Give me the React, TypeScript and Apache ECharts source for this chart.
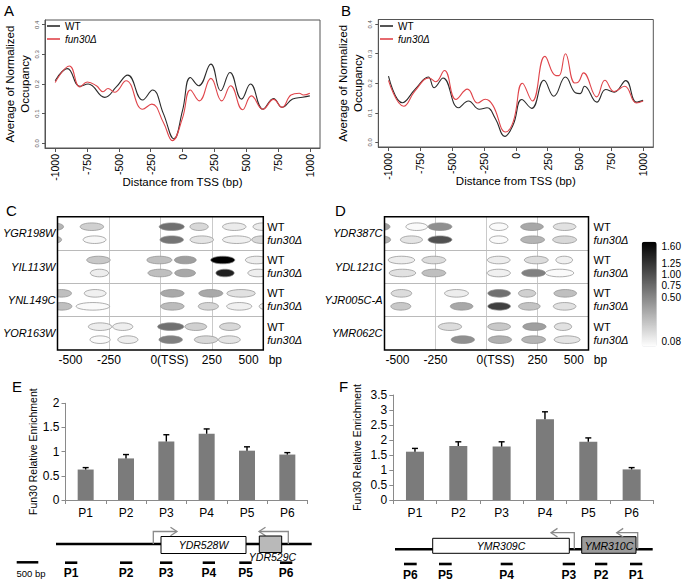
import React, { useEffect, useRef } from 'react';
import * as echarts from 'echarts';

const FONT = '"Liberation Sans", Arial, Helvetica, sans-serif';

// ---------- Panel A / B : nucleosome occupancy profiles ----------
const aWT = [[-1000,0.211],[-904,0.252],[-806,0.192],[-741,0.2],[-611,0.155],[-520,0.19],[-430,0.23],[-313,0.146],[-235,0.18],[-150,0.1],[-68,0.015],[0,0.11],[62,0.222],[127,0.194],[223,0.267],[300,0.177],[373,0.239],[464,0.149],[534,0.2],[632,0.115],[715,0.151],[782,0.121],[865,0.149],[943,0.155],[1000,0.16]];
const aFun = [[-1000,0.205],[-888,0.261],[-806,0.19],[-748,0.207],[-676,0.194],[-624,0.174],[-585,0.185],[-534,0.172],[-443,0.211],[-313,0.115],[-241,0.132],[-150,0.07],[-80,0.009],[0,0.085],[62,0.18],[132,0.143],[223,0.219],[308,0.143],[378,0.194],[472,0.113],[541,0.16],[632,0.115],[715,0.148],[782,0.121],[852,0.163],[917,0.169],[950,0.163],[1000,0.169]];
const bWT = [[-1000,0.224],[-891,0.134],[-790,0.18],[-688,0.221],[-641,0.185],[-571,0.218],[-450,0.117],[-372,0.14],[-286,0.112],[-226,0.117],[-160,0.08],[-86,0.02],[-20,0.06],[47,0.145],[125,0.115],[221,0.21],[299,0.156],[390,0.221],[468,0.168],[506,0.165],[540,0.19],[636,0.136],[706,0.179],[773,0.17],[864,0.209],[947,0.136],[1000,0.142]];
const bFun = [[-1000,0.21],[-880,0.122],[-790,0.175],[-680,0.218],[-630,0.205],[-560,0.243],[-470,0.145],[-380,0.18],[-300,0.133],[-240,0.146],[-180,0.125],[-80,0.035],[-20,0.07],[52,0.2],[130,0.14],[229,0.291],[315,0.226],[340,0.226],[390,0.3],[462,0.201],[493,0.205],[532,0.235],[636,0.154],[700,0.21],[773,0.172],[855,0.19],[947,0.133],[1000,0.14]];
const profileTicks = [-1000, -750, -500, -250, 0, 250, 500, 750, 1000];
const occupancyTicks = [0, 0.1, 0.2, 0.3, 0.4];

// ---------- Panel C / D : nucleosome maps [position bp, width bp, value] ----------
const cGenes = ['YGR198W', 'YIL113W', 'YNL149C', 'YOR163W'];
const cWT = [
  [[-519, 97, 0.52], [-333, 114, 0.36], [55, 122, 0.93], [188, 89, 0.31], [359, 114, 0.2], [500, 100, 0.2]],
  [[-301, 114, 0.41], [-5, 122, 0.46], [121, 106, 0.65], [303, 117, 1.6], [468, 110, 0.18]],
  [[-481, 98, 0.46], [-317, 106, 0.17], [58, 114, 0.6], [245, 117, 0.6], [392, 138, 0.26]],
  [[-293, 114, 0.19], [-183, 98, 0.18], [50, 127, 0.93], [172, 106, 0.36], [338, 101, 0.31]],
];
const cFun = [
  [[-525, 90, 0.5], [-320, 111, 0.13], [55, 114, 0.9], [201, 114, 0.24], [371, 138, 0.17], [494, 100, 0.31]],
  [[-296, 89, 0.19], [-2, 117, 0.46], [120, 101, 0.6], [314, 89, 1.41], [475, 100, 0.18]],
  [[-479, 98, 0.46], [-328, 163, 0.11], [58, 114, 0.48], [233, 98, 0.33], [383, 122, 0.17], [530, 100, 0.17]],
  [[-293, 98, 0.11], [-158, 98, 0.18], [50, 114, 0.84], [222, 114, 0.31], [335, 106, 0.24]],
];
const dGenes = ['YDR387C', 'YDL121C', 'YJR005C-A', 'YMR062C'];
const dWT = [
  [[-518, 90, 0.65], [-342, 106, 0.11], [-228, 117, 0.74], [60, 90, 0.11], [223, 111, 0.6], [383, 111, 0.26]],
  [[-417, 130, 0.19], [-258, 117, 0.29], [60, 111, 0.19], [244, 117, 0.29], [381, 82, 0.17]],
  [[-417, 101, 0.29], [-147, 117, 0.19], [62, 111, 0.93], [199, 85, 0.36], [386, 111, 0.46]],
  [[-179, 114, 0.29], [62, 111, 0.41], [235, 114, 0.65], [375, 85, 0.26]],
];
const dFun = [
  [[-515, 90, 0.55], [-368, 108, 0.24], [-228, 117, 1.12], [60, 90, 0.11], [226, 117, 0.53], [383, 117, 0.31]],
  [[-412, 130, 0.26], [-258, 117, 0.46], [60, 114, 0.17], [231, 117, 0.84], [358, 139, 0.11]],
  [[-420, 98, 0.41], [-122, 111, 0.6], [62, 111, 1.22], [210, 106, 0.44], [383, 111, 0.26]],
  [[-116, 114, 0.74], [66, 114, 0.55], [231, 117, 0.53], [395, 127, 0.24]],
];
const positionTicks = [-500, -250, 0, 250, 500];
const colorTicks = ['1.60', '1.25', '1.00', '0.75', '0.50', '0.08'];

// ---------- Panel E / F : ChIP enrichment ----------
const primers = ['P1', 'P2', 'P3', 'P4', 'P5', 'P6'];
const eValues = [0.63, 0.86, 1.21, 1.37, 1.02, 0.94];
const eErrors = [0.04, 0.08, 0.14, 0.1, 0.08, 0.04];
const fValues = [1.61, 1.8, 1.78, 2.69, 1.94, 1.02];
const fErrors = [0.11, 0.14, 0.16, 0.25, 0.13, 0.06];

// ---------- helpers ----------
const WT_ROW = 0.3;
const FUN_ROW = 0.69;

function ellipseRows(wt: number[][][], fun: number[][][]) {
  const rows: number[][] = [];
  wt.forEach((list, g) => list.forEach(([x, w, v]) => rows.push([x, g + WT_ROW, w, v])));
  fun.forEach((list, g) => list.forEach(([x, w, v]) => rows.push([x, g + FUN_ROW, w, v])));
  return rows;
}

const ellipseRender = (params: any, api: any) => {
  const c = api.coord([api.value(0), api.value(1)]);
  const s = api.size([api.value(2), 0]);
  return {
    type: 'ellipse',
    shape: { cx: c[0], cy: c[1], rx: s[0] / 2, ry: 3.8 },
    style: { fill: api.visual('color'), stroke: '#8c8c8c', lineWidth: 0.7 },
  };
};

const errorRender = (params: any, api: any) => {
  const p0 = api.coord([api.value(0), api.value(1)]);
  const p1 = api.coord([api.value(0), api.value(1) + api.value(2)]);
  return {
    type: 'group',
    children: [
      { type: 'line', shape: { x1: p0[0], y1: p0[1], x2: p1[0], y2: p1[1] }, style: { stroke: '#000', lineWidth: 1.4 } },
      { type: 'line', shape: { x1: p1[0] - 3, y1: p1[1], x2: p1[0] + 3, y2: p1[1] }, style: { stroke: '#000', lineWidth: 1.4 } },
    ],
  };
};

const txt = (text: string, x: number, y: number, extra: any = {}) => ({
  type: 'text', x, y, silent: true,
  style: { text, fill: '#000', fontFamily: FONT, fontSize: 11, align: 'left', verticalAlign: 'middle', ...extra },
});
const seg = (x1: number, y1: number, x2: number, y2: number, stroke = '#000', lineWidth = 2.5) => ({
  type: 'line', silent: true, shape: { x1, y1, x2, y2 }, style: { stroke, lineWidth },
});
const poly = (points: number[][], stroke = '#8a8a8a', lineWidth = 1.3) => ({
  type: 'polyline', silent: true, shape: { points }, style: { stroke, lineWidth, fill: null },
});

function profileXAxis(gridIndex: number) {
  return {
    type: 'value', gridIndex, min: -1080, max: 1080,
    axisLine: { show: true, onZero: false, lineStyle: { color: '#555', width: 1 } },
    axisTick: { show: true, customValues: profileTicks, length: 4, lineStyle: { color: '#555' } },
    axisLabel: { customValues: profileTicks, rotate: 90, fontSize: 10.5, fontFamily: FONT, color: '#000', margin: 6,
      formatter: (v: number) => String(v) },
    splitLine: { show: false },
    name: 'Distance from TSS (bp)', nameLocation: 'middle', nameGap: 28, nameMoveOverlap: false,
    nameTextStyle: { fontSize: 11.5, fontFamily: FONT, color: '#000' },
  };
}
function profileYAxis(gridIndex: number) {
  return {
    type: 'value', gridIndex, min: -0.016, max: 0.416,
    axisLine: { show: true, onZero: false, lineStyle: { color: '#555', width: 1 } },
    axisTick: { show: true, customValues: occupancyTicks, length: 3, lineStyle: { color: '#555' } },
    axisLabel: { customValues: occupancyTicks, rotate: 90, fontSize: 6, fontFamily: FONT, color: '#555', margin: 5,
      formatter: (v: number) => v.toFixed(1) },
    splitLine: { show: false },
    name: 'Average of Normalized\nOccupancy', nameLocation: 'middle', nameGap: 13, nameMoveOverlap: false,
    nameTextStyle: { fontSize: 11.5, lineHeight: 15, fontFamily: FONT, color: '#000' },
  };
}
function mapXAxis(gridIndex: number) {
  return {
    type: 'value', gridIndex, min: -500, max: 500, interval: 250,
    axisLine: { show: false, onZero: false }, axisTick: { show: false },
    splitLine: { show: true, showMinLine: false, showMaxLine: false, lineStyle: { color: '#bdbdbd', width: 0.8 } },
    axisLabel: {
      customValues: positionTicks, fontSize: 12, fontFamily: FONT, color: '#000', margin: 4,
      formatter: (v: number) => (v === -500 ? '{l|-500}' : v === 0 ? '{z|0(TSS)}' : v === 500 ? '{r|500   bp}' : String(v)),
      rich: {
        l: { fontSize: 12, fontFamily: FONT, color: '#000', padding: [0, 0, 0, 26] },
        z: { fontSize: 12, fontFamily: FONT, color: '#000', padding: [0, 0, 0, 18] },
        r: { fontSize: 12, fontFamily: FONT, color: '#000', padding: [0, 6, 0, 0] },
      },
    },
  };
}
function mapYAxes(gridIndex: number, genes: string[], rightMargin: number) {
  const base = { type: 'value', gridIndex, min: 0, max: 4, inverse: true, axisLine: { show: false, onZero: false }, axisTick: { show: false } };
  return [
    { ...base, interval: 1, axisLabel: { show: false },
      splitLine: { show: true, showMinLine: false, showMaxLine: false, lineStyle: { color: '#a8a8a8', width: 0.8 } } },
    { ...base, position: 'left', splitLine: { show: false },
      axisLabel: { customValues: [0.5, 1.5, 2.5, 3.5], margin: 2, fontSize: 11, fontStyle: 'italic', fontFamily: FONT, color: '#000',
        formatter: (v: number) => genes[Math.floor(v)] } },
    { ...base, position: 'right', splitLine: { show: false },
      axisLabel: { customValues: [0, 1, 2, 3].flatMap((g) => [g + WT_ROW, g + FUN_ROW]), margin: rightMargin, fontSize: 11,
        fontFamily: FONT, color: '#000', align: 'left',
        formatter: (v: number) => (v - Math.floor(v) < 0.5 ? 'WT' : '{i|fun30Δ}'),
        rich: { i: { fontStyle: 'italic', fontSize: 11, fontFamily: FONT, color: '#000' } } } },
  ];
}
function barXAxis(gridIndex: number) {
  return {
    type: 'category', gridIndex, data: primers,
    axisLine: { show: true, onZero: false, lineStyle: { color: '#8a8a8a', width: 1 } },
    axisTick: { show: true, length: 4, lineStyle: { color: '#8a8a8a' } },
    axisLabel: { fontSize: 12, fontFamily: FONT, color: '#000', margin: 7 },
  };
}
function barYAxis(gridIndex: number, max: number, nameGap: number) {
  return {
    type: 'value', gridIndex, min: 0, max, interval: 0.5,
    axisLine: { show: true, onZero: false, lineStyle: { color: '#8a8a8a', width: 1 } },
    axisTick: { show: true, length: 4, lineStyle: { color: '#8a8a8a' } },
    axisLabel: { fontSize: 12, fontFamily: FONT, color: '#000', margin: 6 },
    splitLine: { show: false },
    name: 'Fun30 Relative Enrichment', nameLocation: 'middle', nameGap, nameMoveOverlap: false,
    nameTextStyle: { fontSize: 10.5, fontFamily: FONT, color: '#000' },
  };
}

function legendFor(left: number) {
  return {
    left, top: 20, orient: 'vertical', padding: 0, itemGap: 1, itemWidth: 13, itemHeight: 1.6, icon: 'rect',
    data: ['WT', 'fun30Δ'], selectedMode: false,
    formatter: (n: string) => (n === 'fun30Δ' ? '{i|fun30Δ}' : n),
    textStyle: { fontSize: 10, lineHeight: 12, fontFamily: FONT, color: '#000',
      rich: { i: { fontStyle: 'italic', fontSize: 10, lineHeight: 12, fontFamily: FONT, color: '#000' } } },
  };
}

function profileSeries(data: number[][], name: string, color: string, idx: number) {
  return {
    type: 'line', name, data, xAxisIndex: idx, yAxisIndex: idx, smooth: 0.45, symbol: 'none',
    lineStyle: { color, width: 1.1 }, itemStyle: { color },
  };
}

// ---------- gene diagrams (schematics) ----------
function diagramE() {
  const y = 544;
  const primerX = [[65, 77.3], [120, 132.3], [160, 172.3], [202.7, 215], [239.3, 251.7], [280, 292.3]];
  return [
    seg(56, y, 311.7, y, '#000', 2.6),
    poly([[153.3, y], [153.3, 531.5], [176.5, 531.5]]),
    poly([[170.5, 527.2], [177, 531.5], [170.5, 535.8]]),
    poly([[288.3, y], [288.3, 531.5], [259.5, 531.5]]),
    poly([[265.5, 527.2], [259, 531.5], [265.5, 535.8]]),
    { type: 'rect', silent: true, shape: { x: 161, y: 536.5, width: 85, height: 17 }, style: { fill: '#fff', stroke: '#000', lineWidth: 1 } },
    { type: 'rect', silent: true, shape: { x: 259.3, y: 536, width: 22.4, height: 16.5 }, style: { fill: '#b9b9b9', stroke: '#000', lineWidth: 1 } },
    txt('YDR528W', 203.5, 545, { align: 'center', fontStyle: 'italic', fontSize: 10.5 }),
    txt('YDR529C', 272.5, 556.5, { align: 'center', fontStyle: 'italic', fontSize: 10.5 }),
    seg(16.7, 562.3, 38.3, 562.3, '#000', 2.5),
    txt('500 bp', 16.5, 573.5, { fontSize: 9.5 }),
    ...primerX.flatMap(([a, b], i) => [
      seg(a, 562.7, b, 562.7, '#000', 2.6),
      txt(primers[i], (a + b) / 2, 573, { align: 'center', fontWeight: 'bold', fontSize: 12 }),
    ]),
  ];
}
function diagramF() {
  const y = 549.3;
  const primerX = [[630, 642.3], [595, 607.3], [562.7, 575], [500.7, 512.7], [439, 451.7], [404, 416.7]];
  return [
    seg(395, y, 652.7, y, '#000', 2.6),
    { type: 'rect', silent: true, shape: { x: 432.7, y: 538.3, width: 136.6, height: 15 }, style: { fill: '#fff', stroke: '#000', lineWidth: 1 } },
    { type: 'rect', silent: true, shape: { x: 581.7, y: 536.7, width: 54.3, height: 16.6 }, style: { fill: '#9b9b9b', stroke: '#000', lineWidth: 1 } },
    poly([[574.3, y], [574.3, 532.7], [551, 532.7]]),
    poly([[557.5, 528.4], [551, 532.7], [557.5, 537]]),
    poly([[637.7, y], [637.7, 532.7], [616.7, 532.7]]),
    poly([[623.2, 528.4], [616.7, 532.7], [623.2, 537]]),
    txt('YMR309C', 501, 546, { align: 'center', fontStyle: 'italic', fontSize: 10.5 }),
    txt('YMR310C', 609, 545.5, { align: 'center', fontStyle: 'italic', fontSize: 10.5 }),
    ...primerX.flatMap(([a, b], i) => [
      seg(a, 564, b, 564, '#000', 2.6),
      txt(primers[i], (a + b) / 2, 574.5, { align: 'center', fontWeight: 'bold', fontSize: 12 }),
    ]),
  ];
}

const colorLabelY = [246.7, 263, 274, 285.5, 297.7, 341.7];

export default function App() {
  const ref = useRef<HTMLDivElement>(null);
  useEffect(() => {
    document.body.style.margin = '0';
    if (!ref.current) return;
    const chart = echarts.init(ref.current, null, { renderer: 'svg' });
    const gridBase = { show: true, backgroundColor: 'transparent', outerBoundsMode: 'none', containLabel: false };
    const option: any = {
      animation: false,
      backgroundColor: '#fff',
      textStyle: { fontFamily: FONT },
      grid: [
        { ...gridBase, left: 45, top: 20, width: 275, height: 128, borderColor: '#555', borderWidth: 1 },
        { ...gridBase, left: 378.3, top: 19.5, width: 275, height: 127.5, borderColor: '#555', borderWidth: 1 },
        { ...gridBase, z: 6, left: 57.5, top: 216.7, width: 205.8, height: 133.3, borderColor: '#000', borderWidth: 1.5 },
        { ...gridBase, z: 6, left: 384.5, top: 216.7, width: 204, height: 133.3, borderColor: '#000', borderWidth: 1.5 },
        { ...gridBase, show: false, left: 65.5, top: 403.3, width: 242, height: 96.7 },
        { ...gridBase, show: false, left: 393.3, top: 395, width: 260, height: 105 },
      ],
      xAxis: [profileXAxis(0), profileXAxis(1), mapXAxis(2), mapXAxis(3), barXAxis(4), barXAxis(5)],
      yAxis: [
        profileYAxis(0), profileYAxis(1),
        ...mapYAxes(2, cGenes, 4), ...mapYAxes(3, dGenes, 5),
        barYAxis(4, 2, 27), barYAxis(5, 3.5, 31),
      ],
      legend: [legendFor(47), legendFor(380)],
      visualMap: {
        type: 'continuous', min: 0.08, max: 1.6, dimension: 3, seriesIndex: [4, 5],
        inRange: { color: ['#ffffff', '#000000'] }, calculable: false, hoverLink: false,
        orient: 'vertical', left: 641.7, top: 241.7, itemWidth: 15, itemHeight: 105, padding: 0,
        showLabel: false, text: null,
      },
      series: [
        profileSeries(aWT, 'WT', '#2b2b2b', 0),
        profileSeries(aFun, 'fun30Δ', '#e0454b', 0),
        profileSeries(bWT, 'WT', '#2b2b2b', 1),
        profileSeries(bFun, 'fun30Δ', '#e0454b', 1),
        { type: 'custom', name: 'mapC', xAxisIndex: 2, yAxisIndex: 2, clip: true, renderItem: ellipseRender,
          encode: { x: 0, y: 1 }, data: ellipseRows(cWT, cFun) },
        { type: 'custom', name: 'mapD', xAxisIndex: 3, yAxisIndex: 5, clip: true, renderItem: ellipseRender,
          encode: { x: 0, y: 1 }, data: ellipseRows(dWT, dFun) },
        { type: 'bar', xAxisIndex: 4, yAxisIndex: 8, data: eValues, barWidth: 16, itemStyle: { color: '#7b7b7b' } },
        { type: 'custom', xAxisIndex: 4, yAxisIndex: 8, renderItem: errorRender, z: 5,
          encode: { x: 0, y: 1 }, data: eValues.map((v, i) => [i, v, eErrors[i]]) },
        { type: 'bar', xAxisIndex: 5, yAxisIndex: 9, data: fValues, barWidth: 18, itemStyle: { color: '#7b7b7b' } },
        { type: 'custom', xAxisIndex: 5, yAxisIndex: 9, renderItem: errorRender, z: 5,
          encode: { x: 0, y: 1 }, data: fValues.map((v, i) => [i, v, fErrors[i]]) },
      ],
      graphic: {
        elements: [
          txt('A', 4, 10, { fontSize: 15 }),
          txt('B', 341, 10, { fontSize: 15 }),
          txt('C', 6, 210, { fontSize: 15 }),
          txt('D', 335, 210, { fontSize: 15 }),
          txt('E', 12, 386, { fontSize: 15 }),
          txt('F', 339, 386, { fontSize: 15 }),
          ...colorTicks.map((t, i) => txt(t, 661.5, colorLabelY[i], { fontSize: 10 })),
          ...diagramE(),
          ...diagramF(),
        ],
      },
    };
    chart.setOption(option);
    return () => chart.dispose();
  }, []);
  return <div ref={ref} style={{ width: 683, height: 580 }} />;
}
